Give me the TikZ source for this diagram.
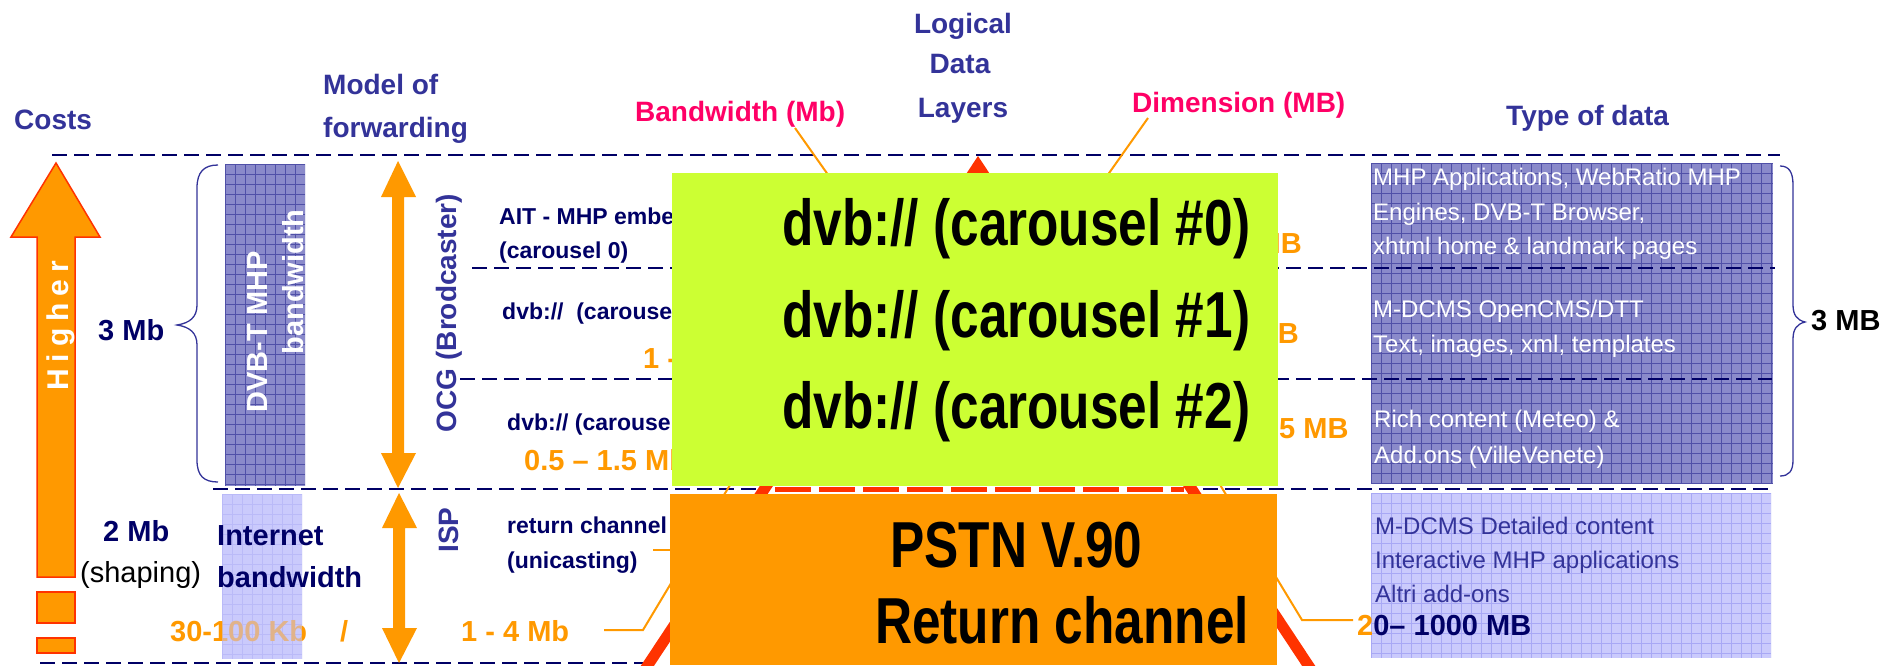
\documentclass[tikz,border=0pt]{standalone}
\usepackage{fontspec}
\setmainfont{Liberation Sans}
\newfontfamily\narrowfont{Liberation Sans}[FakeStretch=0.79]
\definecolor{navy}{HTML}{333399}
\definecolor{dnavy}{HTML}{000066}
\definecolor{pinkred}{HTML}{FF0066}
\definecolor{orng}{HTML}{FF9900}
\definecolor{redo}{HTML}{FF3300}
\definecolor{lime}{HTML}{CCFF33}
\definecolor{boxdark}{HTML}{8A8ACA}
\definecolor{griddark}{HTML}{5050A8}
\definecolor{boxlight}{HTML}{CACAFC}
\definecolor{gridlight}{HTML}{A8A8F5}
\newcommand\gridfill[6]{%
  \fill[#5] (#1,#2) rectangle (#3,#4);
  \begin{scope}
    \clip (#1,#2) rectangle (#3,#4);
    \foreach \k in {0,...,42} {
      \draw[#6, line width=0.7] (#1+\k*10,#2) -- (#1+\k*10,#4);
      \draw[#6, line width=0.7] (#1,#2+\k*10) -- (#3,#2+\k*10);
    }
  \end{scope}}
\begin{document}
\begin{tikzpicture}[x=1pt,y=-1pt,
  lbl/.style={inner sep=0pt, anchor=base west},
  hdr/.style={lbl, text=navy, font=\fontsize{28}{30}\selectfont\bfseries},
  pk/.style={lbl, text=pinkred, font=\fontsize{28}{30}\selectfont\bfseries},
  dn/.style={lbl, text=dnavy, font=\fontsize{29}{31}\selectfont\bfseries},
  orl/.style={lbl, text=orng, font=\fontsize{29}{31}\selectfont\bfseries},
  sm/.style={lbl, text=dnavy, font=\fontsize{23}{25}\selectfont\bfseries},
  wt/.style={lbl, text=white, font=\fontsize{24}{26}\selectfont},
  nv/.style={lbl, text=navy, font=\fontsize{24}{26}\selectfont},
  bigtxt/.style={lbl, text=black, font=\fontsize{65}{68}\narrowfont\bfseries},
  rot/.style={inner sep=0pt, anchor=base, rotate=90},
  sepline/.style={dnavy, line width=2.2, dash pattern=on 15pt off 7pt},
  conn/.style={orng, line width=2},
  brace/.style={navy, line width=1.3}
]
\useasboundingbox (0,0) rectangle (1898,665);
\fill[white] (0,0) rectangle (1898,665);

% ---- boxes with grid
\gridfill{1371}{163}{1773}{483}{boxdark}{griddark}
\gridfill{1371}{493}{1771}{658}{boxlight}{gridlight}
\gridfill{225}{164}{305}{486}{boxdark}{griddark}
\gridfill{222}{494}{302}{659}{boxlight}{gridlight}

% ---- layer separators
\draw[sepline] (52,155) -- (1780,155);
\draw[sepline] (472,268) -- (1775,268);
\draw[sepline] (460,379) -- (1772,379);
\draw[sepline] (213,489) -- (1772,489);
\draw[sepline] (40,663) -- (690,663);

% ---- pyramid (logical data layers)
\draw[redo, line width=11, fill=white] (638,680) -- (978,166) -- (1318,680);
\draw[redo, line width=5, dash pattern=on 36pt off 8pt] (775,489) -- (1184,489);

% ---- headers
\node[hdr] (costs) at (14,129) {Costs};
\node[hdr] (model1) at (323,94) {Model of};
\node[hdr] (model2) at (323,137) {forwarding};
\node[hdr, anchor=base] (log1) at (963,33) {Logical};
\node[hdr, anchor=base] (log2) at (960,73) {Data};
\node[hdr, anchor=base] (log3) at (963,117) {Layers};
\node[pk] (bw) at (635,121) {Bandwidth (Mb)};
\node[pk] (dim) at (1132,112) {Dimension (MB)};
\node[hdr] (type) at (1506,125) {Type of data};

% ---- connectors
\coordinate (bwS) at (795,128);
\coordinate (bwE) at (860,220);
\coordinate (dimS) at (1148,118);
\coordinate (dimE) at (1090,200);
\coordinate (l14a) at (604,630);
\coordinate (l14b) at (643,630);
\coordinate (l14c) at (745,460);
\coordinate (unia) at (653,550);
\coordinate (unib) at (700,550);
\coordinate (r20a) at (1353,620);
\coordinate (r20b) at (1302,620);
\coordinate (r20c) at (1205,460);
\draw[conn] (bwS) -- (bwE);
\draw[conn] (dimS) -- (dimE);
\draw[conn] (l14a) -- (l14b) -- (l14c);
\draw[conn] (unia) -- (unib);
\draw[conn] (r20a) -- (r20b) -- (r20c);

% ---- Higher arrow
\filldraw[fill=orng, draw=redo, line width=1.5] (56,163) -- (100,237) -- (75,237) -- (75,577) -- (37,577) -- (37,237) -- (11,237) -- cycle;
\filldraw[fill=orng, draw=redo, line width=1.5] (37,592) rectangle (75,623);
\filldraw[fill=orng, draw=redo, line width=1.5] (37,638) rectangle (75,653);
\node[rot, text=white, font=\fontsize{30}{32}\selectfont\bfseries] (higher) at (68,326) {\addfontfeature{LetterSpace=23}Higher};

% ---- forwarding arrows
\fill[orng] (398,161) -- (416,197) -- (404,197) -- (404,453) -- (416,453) -- (398,488) -- (381,453) -- (392,453) -- (392,197) -- (381,197) -- cycle;
\fill[orng] (399,493) -- (417,528) -- (405,528) -- (405,628) -- (417,628) -- (399,663) -- (382,628) -- (393,628) -- (393,528) -- (382,528) -- cycle;
\node[rot, text=navy, font=\fontsize{28}{30}\selectfont\bfseries] (ocg) at (456,313) {OCG (Brodcaster)};
\node[rot, text=navy, font=\fontsize{28}{30}\selectfont\bfseries] (isp) at (458,530) {ISP};
\node[rot, text=white, font=\fontsize{29}{31}\selectfont\bfseries] (dvbt1) at (267,332) {DVB-T MHP};
\node[rot, text=white, font=\fontsize{29}{31}\selectfont\bfseries] (dvbt2) at (303,282) {bandwidth};

% ---- braces
\draw[brace] (218,165) .. controls (204,165) and (197,172) .. (197,188) -- (197,305) .. controls (197,317) and (190,323) .. (177,325) .. controls (190,327) and (197,333) .. (197,345) -- (197,460) .. controls (197,476) and (204,482) .. (218,482);
\draw[brace] (1780,166) .. controls (1789,166) and (1793,172) .. (1793,185) -- (1793,305) .. controls (1793,315) and (1797,320) .. (1805,322) .. controls (1797,324) and (1793,329) .. (1793,339) -- (1793,460) .. controls (1793,471) and (1789,476) .. (1780,476);

% ---- left column texts
\node[dn] (mb3) at (98,340) {3 Mb};
\node[dn] (mb2) at (103,541) {2 Mb};
\node[lbl, text=black, font=\fontsize{29}{31}\selectfont] (shaping) at (80,582) {(shaping)};
\node[orl] (kb) at (170,641) {30-100 Kb};
\fill[boxlight, opacity=0.55] (222,494) rectangle (302,659);
\node[dn] (inet1) at (217,545) {Internet};
\node[dn] (inet2) at (217,587) {bandwidth};
\node[orl] (slash) at (340,641) {/};
\node[orl] (mb14) at (461,641) {1 - 4 Mb};

% ---- middle texts (partly hidden)
\node[sm] (ait) at (499,224) {AIT - MHP embedded};
\node[sm] (car0) at (499,258) {(carousel 0)};
\node[sm] (dvb1) at (502,319) {dvb://\ \ (carousel 1)};
\node[orl] (bw1) at (643,368) {1 - 2 Mb};
\node[sm] (dvb2) at (507,430) {dvb:// (carousel 2)};
\node[orl] (bw2) at (524,470) {0.5 – 1.5 Mb};
\node[sm] (ret) at (507,533) {return channel};
\node[sm] (uni) at (507,568) {(unicasting)};
\node[orl, anchor=base east] (dim0) at (1302,253) {MB};
\node[orl, anchor=base east] (dim1) at (1299,343) {MB};
\node[orl] (dim2) at (1279,438) {5 MB};

% ---- central boxes
\fill[lime] (672,173) rectangle (1278,486);
\fill[orng] (670,494) rectangle (1277,665);
\node[bigtxt] (g0) at (782,245) {dvb:// (carousel \#0)};
\node[bigtxt] (g1) at (782,337) {dvb:// (carousel \#1)};
\node[bigtxt] (g2) at (782,428) {dvb:// (carousel \#2)};
\node[bigtxt] (p1) at (890,567) {PSTN V.90};
\node[bigtxt] (p2) at (875,643) {Return channel};

% ---- type of data texts
\node[wt] (t1) at (1373,185) {MHP Applications, WebRatio MHP};
\node[wt] (t2) at (1373,220) {Engines, DVB-T Browser,};
\node[wt] (t3) at (1373,254) {xhtml home \& landmark pages};
\node[wt] (t4) at (1373,317) {M-DCMS OpenCMS/DTT};
\node[wt] (t5) at (1373,352) {Text, images, xml, templates};
\node[wt] (t6) at (1374,427) {Rich content (Meteo) \&};
\node[wt] (t7) at (1374,463) {Add.ons (VilleVenete)};
\node[nv] (t8) at (1375,534) {M-DCMS Detailed content};
\node[nv] (t9) at (1375,568) {Interactive MHP applications};
\node[nv] (t10) at (1375,602) {Altri add-ons};
\node[dn] (t11) at (1357,635) {{\color{orng}2}0– 1000 MB};
\node[lbl, text=black, font=\fontsize{29}{31}\selectfont\bfseries] (mb3r) at (1811,330) {3 MB};
\end{tikzpicture}
\end{document}
